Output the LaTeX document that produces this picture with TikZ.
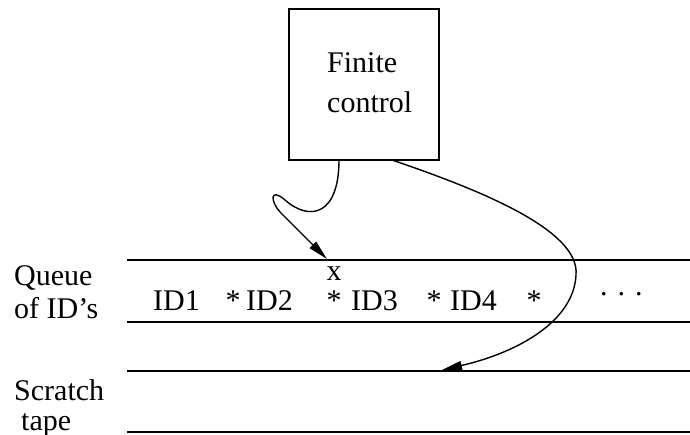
\documentclass[tikz,border=0pt]{standalone}
\usepackage{fontspec}
\setmainfont{Liberation Serif}
\usetikzlibrary{arrows.meta}
\begin{document}
\begin{tikzpicture}[x=1pt,y=-1pt,
  lbl/.style={anchor=base west,inner sep=0pt,font=\fontsize{30}{34}\selectfont},
  tapeline/.style={line width=1.8pt},
  ctrlbox/.style={draw,line width=1.8pt,minimum width=150pt,minimum height=151pt,inner sep=0pt},
  link/.style={line width=1.4pt,-{Triangle[length=20pt,width=9pt]}}]
\useasboundingbox (0,0) rectangle (690,435);
% finite control
\node[ctrlbox] (fc) at (364,84.5) {};
\node[lbl] (fin) at (327,73) {Finite};
\node[lbl] (ctl) at (327,113) {control};
% tape lines
\coordinate (q1) at (127,260); \coordinate (q2) at (690,260);
\coordinate (q3) at (127,322); \coordinate (q4) at (690,322);
\coordinate (s1) at (127,371); \coordinate (s2) at (690,371);
\coordinate (s3) at (127,432); \coordinate (s4) at (690,432);
\draw[tapeline] (q1) -- (q2);
\draw[tapeline] (q3) -- (q4);
\draw[tapeline] (s1) -- (s2);
\draw[tapeline] (s3) -- (s4);
% labels
\node[lbl] (l1) at (14,286) {Queue};
\node[lbl] (l2) at (14,318) {of ID's};
\node[lbl] (l3) at (14,400) {Scratch};
\node[lbl] (l4) at (21,430) {tape};
% queue contents
\node[lbl] (id1) at (153,310) {ID1};
\node[lbl,anchor=base] (st1) at (233,310) {*};
\node[lbl] (id2) at (246,310) {ID2};
\node[lbl,anchor=base] (st2) at (334,311) {*};
\node[lbl,anchor=base] (xm) at (334,281) {x};
\node[lbl] (id3) at (351,310) {ID3};
\node[lbl,anchor=base] (st3) at (434,310) {*};
\node[lbl] (id4) at (450,310) {ID4};
\node[lbl,anchor=base] (st4) at (534,310) {*};
\node[lbl] (dots) at (600,295) {. . .};
% connectors
\coordinate (a1s) at (339,160);
\coordinate (a1e) at (327,259);
\coordinate (a2s) at (392,160);
\coordinate (a2e) at (442,370);
\draw[link] (a1s) .. controls (339,215) and (310,222) .. (285,200)
  .. controls (270,187) and (270,201) .. (280,212) -- (a1e);
\draw[link] (a2s) .. controls (480,190) and (580,230) .. (576,275)
  .. controls (574,320) and (520,352) .. (a2e);
\end{tikzpicture}
\end{document}
